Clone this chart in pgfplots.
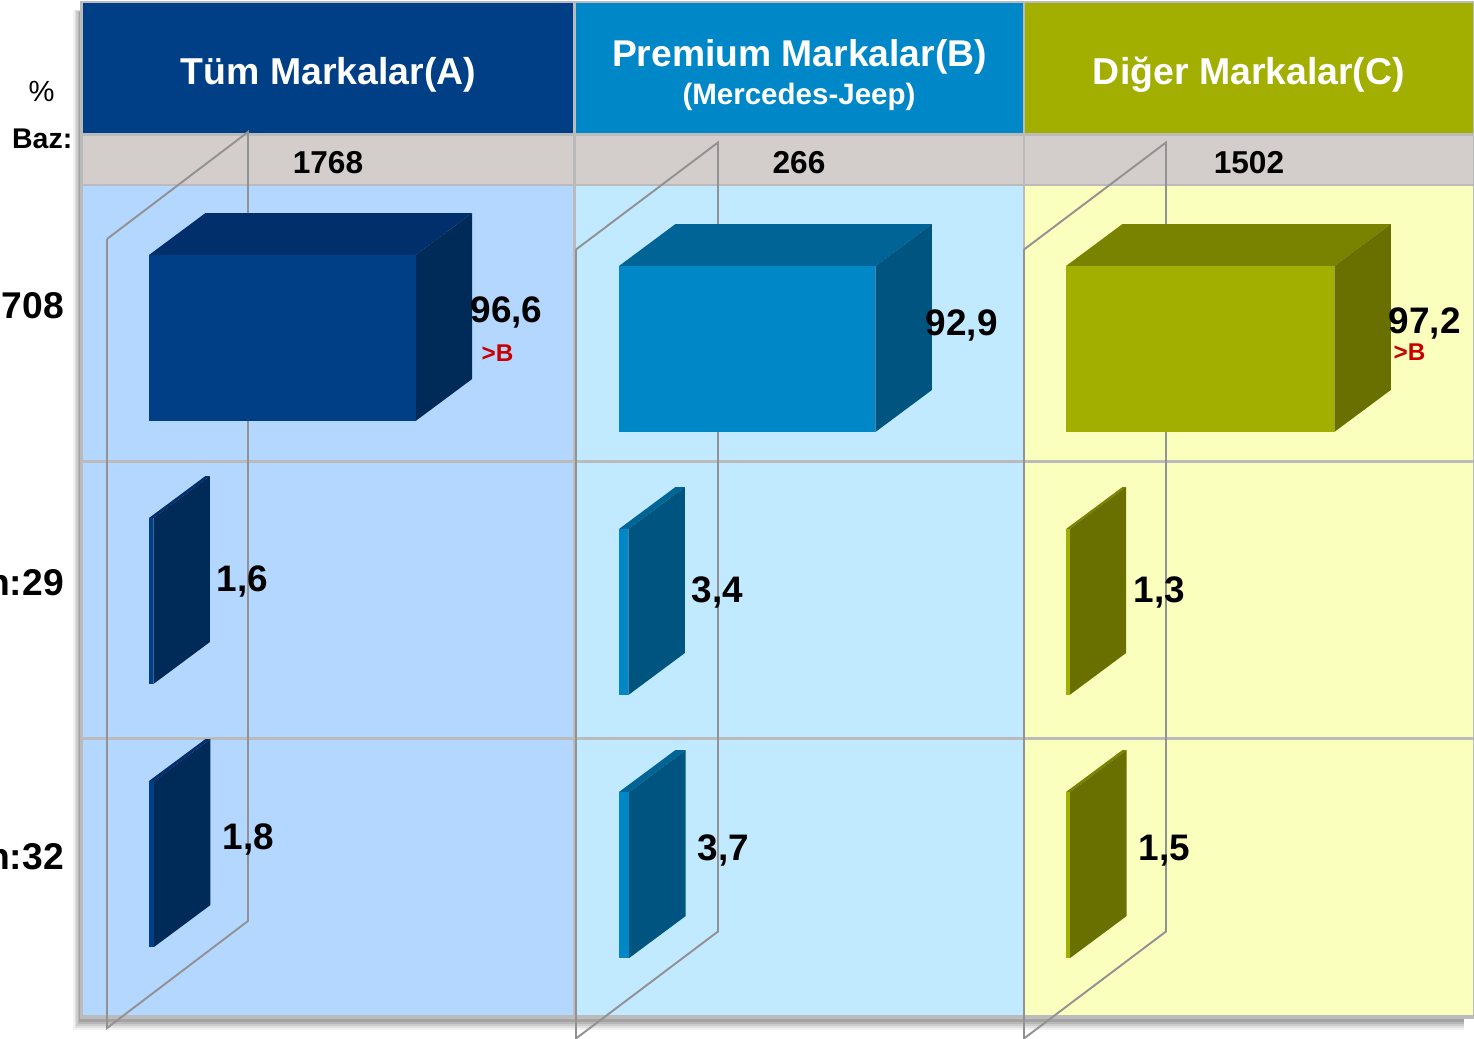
\documentclass[border=0pt]{standalone}
\usepackage{pgfplots}
\pgfplotsset{compat=1.18}
\usepackage{fontspec}
\setmainfont{Liberation Sans}

\definecolor{hdA}{HTML}{003F85}
\definecolor{hdB}{HTML}{0087C8}
\definecolor{hdC}{HTML}{A2AF00}
\definecolor{bgA}{HTML}{B3D7FF}
\definecolor{bgB}{HTML}{C1E9FF}
\definecolor{bgC}{HTML}{FAFFBE}
\definecolor{baz}{HTML}{D3CECC}
\definecolor{topA}{HTML}{002F6C}
\definecolor{sideA}{HTML}{002A58}
\definecolor{topB}{HTML}{006596}
\definecolor{sideB}{HTML}{005580}
\definecolor{topC}{HTML}{7A8300}
\definecolor{sideC}{HTML}{6A7000}
\definecolor{sep}{HTML}{BBBBBB}
\definecolor{plane}{HTML}{929292}
\definecolor{kirmizi}{HTML}{C80000}

% all axes fill the page; y is in image pixels
\pgfplotsset{
    sayfa/.style={
        hide axis, scale only axis, clip=false,
        width=14.74cm, height=10.39cm,
        ymin=0, ymax=1039, y dir=reverse,
    },
    piksel/.style={sayfa, xmin=0, xmax=1474},
}

\newcommand{\kutu}[5]{% value, top y, front, top, side
    \addplot[fill=#4, draw=none] coordinates {(0,#2) (#1,#2) ({#1+20.47},{#2-42}) (20.47,{#2-42})};
    \addplot[fill=#5, draw=none] coordinates {(#1,#2) ({#1+20.47},{#2-42}) ({#1+20.47},{#2+124}) (#1,{#2+166})};
    \addplot[fill=#3, draw=none] coordinates {(0,#2) (#1,#2) (#1,{#2+166}) (0,{#2+166})};
}
\newcommand{\dortgen}[5]{%
    \addplot[fill=#5, draw=none] coordinates {(#1,#2) (#3,#2) (#3,#4) (#1,#4)};
}
\newcommand{\yatay}[1]{\addplot[sep, line width=0.7pt] coordinates {(82,#1) (1473,#1)};}
\newcommand{\dikey}[1]{\addplot[sep, line width=0.7pt] coordinates {(#1,3) (#1,1016)};}
\newcommand{\duzlem}[3]{% left x, right x, top y of the right edge
    \addplot[plane, line width=0.55pt] coordinates {(#1,{#3+107}) (#2,#3) (#2,{#3+789}) (#1,{#3+896}) (#1,{#3+107})};
}
\newcommand{\deger}[3]{\node[anchor=base west, inner sep=0pt, font=\fontsize{10.5}{12}\selectfont\bfseries] at (axis cs:#1,#2) {#3};}
\newcommand{\fark}[2]{\node[anchor=base west, inner sep=0pt, text=kirmizi, font=\fontsize{6.9}{8}\selectfont\bfseries] at (axis cs:#1,#2) {>B};}
\newcommand{\sol}[3]{\node[anchor=base east, inner sep=0pt, font=\fontsize{#3}{12}\selectfont\bfseries] at (axis cs:64.5,#1) {#2};}
\newcommand{\baz}[2]{\node[anchor=base, inner sep=0pt, font=\fontsize{9}{11}\selectfont\bfseries] at (axis cs:#1,174) {#2};}
\newcommand{\baslik}[4]{\node[anchor=base, inner sep=0pt, text=white, font=\fontsize{#3}{12}\selectfont\bfseries] at (axis cs:#1,#2) {#4};}

\begin{document}
\begin{tikzpicture}
\path[use as bounding box, clip] (0,0) rectangle (14.74cm,10.39cm);

% backgrounds, shadow, grid
\begin{axis}[piksel]
    \dortgen{73}{10}{1464}{1030}{black!5}
    \dortgen{74.5}{10}{1464}{1028}{black!12}
    \dortgen{76}{11}{1464}{1026}{black!20}
    \dortgen{77.5}{11}{1464}{1024}{black!28}
    \dortgen{79}{12}{1464}{1022}{black!36}
    \dortgen{80}{1}{1474}{1019}{sep}
    \dortgen{83}{3}{574}{134}{hdA}
    \dortgen{575}{3}{1024}{134}{hdB}
    \dortgen{1025}{3}{1473}{134}{hdC}
    \dortgen{83}{134}{1473}{185}{baz}
    \dortgen{83}{185}{574}{1015}{bgA}
    \dortgen{575}{185}{1024}{1015}{bgB}
    \dortgen{1025}{185}{1473}{1015}{bgC}
    \yatay{134.5}
    \yatay{185}
    \yatay{461.5}
    \yatay{738.5}
    \dikey{574.5}
    \dikey{1024}
    \duzlem{107}{248}{132}
    \duzlem{576}{718}{142.5}
    \duzlem{1024}{1166}{142.5}
\end{axis}

% Tum Markalar (A)
\begin{axis}[sayfa, xmin=-53.986, xmax=480.07]
    \kutu{96.6}{255}{hdA}{topA}{sideA}
    \kutu{1.6}{518}{hdA}{topA}{sideA}
    \kutu{1.8}{781}{hdA}{topA}{sideA}
\end{axis}

% Premium Markalar (B)
\begin{axis}[sayfa, xmin=-224.275, xmax=309.78]
    \kutu{92.9}{266}{hdB}{topB}{sideB}
    \kutu{3.4}{529}{hdB}{topB}{sideB}
    \kutu{3.7}{792}{hdB}{topB}{sideB}
\end{axis}

% Diger Markalar (C)
\begin{axis}[sayfa, xmin=-386.232, xmax=147.826]
    \kutu{97.2}{266}{hdC}{topC}{sideC}
    \kutu{1.3}{529}{hdC}{topC}{sideC}
    \kutu{1.5}{792}{hdC}{topC}{sideC}
\end{axis}

% texts
\begin{axis}[piksel]
    \baslik{328.5}{85}{10.65}{Tüm Markalar(A)}
    \baslik{799.5}{66.5}{10.6}{Premium Markalar(B)}
    \baslik{799}{105}{8.4}{(Mercedes-Jeep)}
    \baslik{1249}{85}{10.65}{Diğer Markalar(C)}
    \baz{328}{1768}
    \baz{799}{266}
    \baz{1249}{1502}
    \node[anchor=base, inner sep=0pt, font=\fontsize{8.3}{10}\selectfont] at (axis cs:41.5,102) {\%};
    \node[anchor=base east, inner sep=0pt, font=\fontsize{8.1}{10}\selectfont\bfseries] at (axis cs:73,149) {Baz:};
    \sol{319}{n:1708}{10.6}
    \sol{595}{n:29}{10.6}
    \sol{870}{n:32}{10.6}
    \deger{470}{323}{96,6}
    \deger{925}{336}{92,9}
    \deger{1388}{334}{97,2}
    \deger{216}{592}{1,6}
    \deger{691}{602}{3,4}
    \deger{1133}{602}{1,3}
    \deger{222}{849}{1,8}
    \deger{697}{860}{3,7}
    \deger{1138}{860}{1,5}
    \fark{481}{362}
    \fark{1393}{361}
\end{axis}
\end{tikzpicture}
\end{document}
